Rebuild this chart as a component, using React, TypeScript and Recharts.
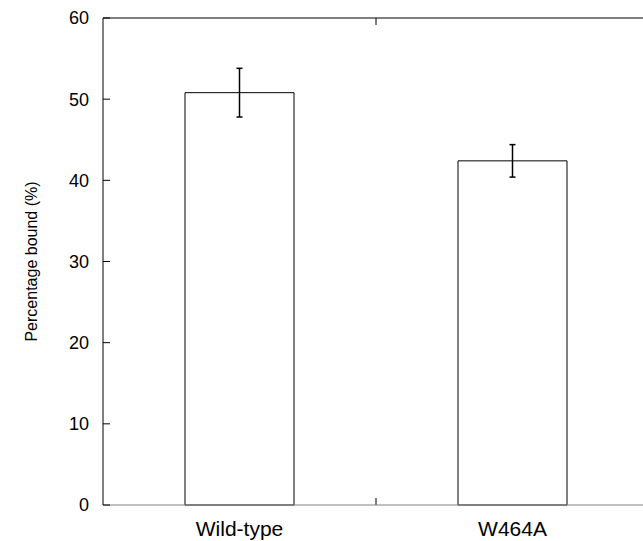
import React from 'react';
import { BarChart, Bar, XAxis, YAxis, ErrorBar, ReferenceLine } from 'recharts';

const categories = ['Wild-type', 'W464A'];
const values = [50.8, 42.4];
const errors = [3.0, 2.0];
const yTicks = [0, 10, 20, 30, 40, 50, 60];
const xTicks = [0.5, 1.5];
const dividerPos = 1;

const data = categories.map((c, i) => ({ name: c, pos: i + 0.5, value: values[i], err: errors[i] }));

const BottomTick = (props: any) => {
  const { x, y, payload } = props;
  const label = categories[Math.floor(payload.value)];
  return (
    <text x={x} y={y + 31} textAnchor="middle" fontSize={21} fill="#000">
      {label}
    </text>
  );
};

const DividerTicks = (props: any) => {
  const { x1, y1, x2, y2 } = props;
  if (x1 == null || y1 == null) return null;
  const top = Math.min(y1, y2);
  const bottom = Math.max(y1, y2);
  return (
    <g>
      <line x1={x1} y1={top} x2={x1} y2={top + 7} stroke="#000" />
      <line x1={x2} y1={bottom} x2={x2} y2={bottom - 7} stroke="#000" />
    </g>
  );
};

export default function App() {
  return (
    <div
      style={{
        position: 'absolute',
        left: 0,
        top: 0,
        width: 643,
        height: 541,
        overflow: 'hidden',
        background: '#fff',
        fontFamily: '"Liberation Sans", Arial, sans-serif',
      }}
    >
      <BarChart width={660} height={541} data={data} margin={{ top: 17, right: 11, bottom: 0, left: 43 }}>
        <XAxis
          xAxisId="top"
          orientation="top"
          type="number"
          domain={[0, 2]}
          allowDataOverflow
          height={1}
          tickLine={false}
          tick={false}
          axisLine={{ stroke: '#000' }}
        />
        <XAxis
          dataKey="pos"
          type="number"
          domain={[0, 2]}
          ticks={xTicks}
          allowDataOverflow
          height={36}
          interval={0}
          tickLine={false}
          tickSize={0}
          tickMargin={0}
          tick={<BottomTick />}
          axisLine={{ stroke: '#808080' }}
        />
        <YAxis
          type="number"
          domain={[0, 60]}
          ticks={yTicks}
          interval={0}
          width={60}
          tickSize={-7}
          tickMargin={21}
          tick={{ fill: '#000', fontSize: 18 }}
          axisLine={{ stroke: '#000' }}
          tickLine={{ stroke: '#000' }}
          label={{
            value: 'Percentage bound (%)',
            angle: -90,
            position: 'insideLeft',
            offset: -12,
            style: { textAnchor: 'middle', fill: '#000', fontSize: 16 },
          }}
        />
        <ReferenceLine x={dividerPos} shape={<DividerTicks />} />
        <Bar dataKey="value" fill="#fff" stroke="#000" barSize={109} isAnimationActive={false}>
          <ErrorBar dataKey="err" width={3} stroke="#000" direction="y" />
        </Bar>
      </BarChart>
    </div>
  );
}
